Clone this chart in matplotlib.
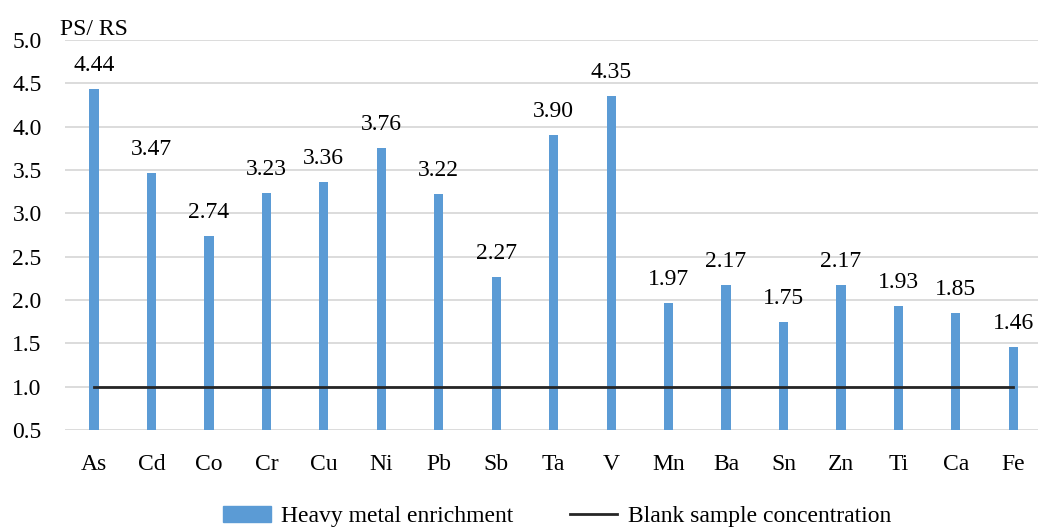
import numpy as np
import matplotlib.pyplot as plt
from matplotlib.lines import Line2D
from matplotlib.patches import Patch

# ---------------- DATA ----------------
elements = ["As", "Cd", "Co", "Cr", "Cu", "Ni", "Pb", "Sb", "Ta", "V",
            "Mn", "Ba", "Sn", "Zn", "Ti", "Ca", "Fe"]
enrichment = [4.44, 3.47, 2.74, 3.23, 3.36, 3.76, 3.22, 2.27, 3.90, 4.35,
              1.97, 2.17, 1.75, 2.17, 1.93, 1.85, 1.46]
blank_level = 1.0

plt.rcParams['font.family'] = ['Liberation Serif', 'DejaVu Serif']
fs = 17

fig = plt.figure(figsize=(10.38, 5.29), dpi=100)
ax = fig.add_axes([0.0629, 0.1871, 0.941, 0.7372])

x = np.arange(len(elements))
ax.bar(x, enrichment, width=0.16, color="#5b9bd5", zorder=2)
ax.plot([x[0], x[-1]], [blank_level, blank_level], color="#262626", lw=2, zorder=3)

# value labels over each bar
for xi, v in zip(x, enrichment):
    ax.text(xi, v + 0.15, f"{v:.2f}", ha="center", va="bottom", fontsize=fs)

ax.set_xlim(-0.5, len(elements) - 0.5)
ax.set_ylim(0.5, 5.0)
ax.set_yticks(np.arange(0.5, 5.01, 0.5))
ax.set_yticklabels([f"{t:.1f}" for t in np.arange(0.5, 5.01, 0.5)])
ax.set_xticks(x)
ax.set_xticklabels(elements)
ax.tick_params(axis="y", length=0, pad=17, labelsize=fs)
ax.tick_params(axis="x", length=0, pad=17, labelsize=fs)
ax.grid(axis="y", color="#d9d9d9", lw=1.3, zorder=0)
ax.set_axisbelow(True)
for s in ax.spines.values():
    s.set_visible(False)

fig.text(0.058, 0.945, "PS/ RS", fontsize=fs, ha="left", va="center")

handles = [Patch(color="#5b9bd5"), Line2D([], [], color="#262626", lw=2)]
fig.legend(handles, ["Heavy metal enrichment", "Blank sample concentration"],
           loc="center", bbox_to_anchor=(0.537, 0.024), ncol=2, frameon=False,
           fontsize=fs, handlelength=2.0, handleheight=0.7, columnspacing=2.4,
           handletextpad=0.45)

fig.savefig("out.png", dpi=100)
